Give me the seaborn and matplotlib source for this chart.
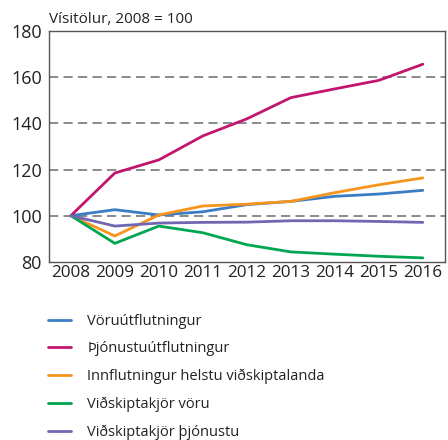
import numpy as np
import pandas as pd
import matplotlib.pyplot as plt
import seaborn as sns
from matplotlib.ticker import FixedLocator

years = [2008, 2009, 2010, 2011, 2012, 2013, 2014, 2015, 2016]
voruutfl = [100, 102.6, 100.3, 101.7, 104.8, 106.2, 108.4, 109.4, 111.0]
thjonutfl = [100, 118.5, 124.2, 134.6, 142.0, 151.2, 155.0, 158.7, 165.7]
innfl = [100, 91.2, 100.3, 104.2, 105.0, 106.2, 110.0, 113.4, 116.4]
vidsk_voru = [100, 88.0, 95.5, 92.6, 87.4, 84.3, 83.3, 82.4, 81.7]
vidsk_thjon = [100, 95.5, 96.8, 97.1, 97.2, 97.8, 97.8, 97.5, 97.1]

names = ["Vöruútflutningur", "Þjónustuútflutningur",
         "Innflutningur helstu viðskiptalanda", "Viðskiptakjör vöru",
         "Viðskiptakjör þjónustu"]
colors = ["#3b7dc4", "#c2166e", "#f7941d", "#00a651", "#7066b4"]

rows = []
for name, vals in zip(names, [voruutfl, thjonutfl, innfl, vidsk_voru, vidsk_thjon]):
    for i, (y, v) in enumerate(zip(years, vals)):
        rows.append({"pos": i, "year": y, "value": v, "series": name})
df = pd.DataFrame(rows)

sns.set_style("white")
plt.rcParams["font.family"] = ["Open Sans", "DejaVu Sans"]

fig = plt.figure(figsize=(4.48, 4.40), dpi=100)
ax = fig.add_axes([0.109, 0.405, 0.884, 0.524])

sns.lineplot(data=df, x="pos", y="value", hue="series", hue_order=names,
             palette=colors, linewidth=2, ax=ax, legend=True)

ax.set_xlim(-0.5, len(years) - 0.5)
ax.set_ylim(80, 180)
ax.set_yticks([80, 100, 120, 140, 160, 180])
for g in [100, 120, 140, 160]:
    ax.axhline(g, color="#777777", lw=1.2, ls=(0, (5.5, 3.2)), zorder=0)

ax.set_xticks(range(len(years)))
ax.set_xticklabels([str(y) for y in years])
ax.xaxis.set_minor_locator(FixedLocator(np.arange(-0.5, len(years), 1)))
ax.tick_params(axis="x", which="major", length=0, labelsize=12.3, pad=2,
               colors="#222222")
ax.tick_params(axis="x", which="minor", length=6, width=1, color="#555555",
               direction="out")
ax.tick_params(axis="y", length=0, labelsize=13, pad=5, colors="#222222")
ax.set_xlabel("")
ax.set_ylabel("")
for s in ax.spines.values():
    s.set_visible(True)
    s.set_color("#555555")
    s.set_linewidth(1)

ax.text(0, 1.02, "Vísitölur, 2008 = 100", transform=ax.transAxes,
        fontsize=11, color="#222222", ha="left", va="bottom")

handles, labels = ax.get_legend_handles_labels()
ax.get_legend().remove()
fig.legend(handles, labels, loc="upper left", bbox_to_anchor=(0.078, 0.317),
           frameon=False, fontsize=10.5, handlelength=1.6, handletextpad=1.1,
           labelspacing=0.86, labelcolor="#222222")

fig.savefig("out.png", dpi=100)
